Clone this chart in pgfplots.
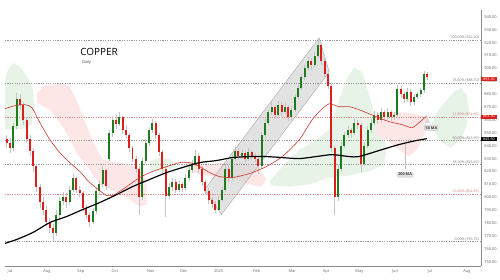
\documentclass[border=0pt]{standalone}
\usepackage{fontspec}
\setmainfont{Open Sans}
\usepackage{pgfplots}
\pgfplotsset{compat=1.18}
\usepackage{pgfplotstable}

\definecolor{upc}{HTML}{1E7B1E}
\definecolor{dnc}{HTML}{D9201C}
\definecolor{wick}{HTML}{C4C4C4}
\definecolor{ma50}{HTML}{C8372D}
\definecolor{cloudg}{HTML}{E8F3E8}
\definecolor{cloudr}{HTML}{FCE6E6}
\definecolor{fibg}{HTML}{9A9A9A}
\definecolor{fibr}{HTML}{E08A8A}
\definecolor{axisg}{HTML}{8C8C8C}
\definecolor{chan}{HTML}{D6D6D6}

\pgfplotstableread{
t o h l c
-2 845 848 838 842
0 842 846 834 838
2 838 858 836 855
4 855 881 853 876
6 876 880 868 872
8 872 874 856 860
10 860 862 842 845
12 845 848 832 836
14 836 838 820 824
16 824 826 804 808
18 808 810 792 796
20 796 800 786 790
22 790 793 778 781
24 781 784 772 776
26 776 779 766 772
28 772 790 770 786
30 786 800 784 797
32 797 804 794 800
34 800 803 792 796
36 796 809 794 806
38 806 818 804 815
40 815 816 803 806
42 806 809 800 803
44 803 805 789 792
46 792 794 783 786
48 786 788 777 781
50 781 792 779 789
52 789 807 787 805
54 805 813 802 810
56 810 824 808 821
58 821 822 806 809
60 830 852 828 850
62 850 863 847 860
64 860 864 853 857
66 857 866 855 862
68 862 863 849 852
70 852 856 845 848
72 848 850 835 838
74 838 840 827 830
76 830 832 819 822
78 822 824 786 800
80 800 831 798 828
82 828 845 826 842
84 842 854 840 852
86 852 861 850 858
88 858 859 845 848
90 848 850 832 835
92 835 837 819 822
94 822 824 785 801
96 801 811 799 808
98 808 815 805 812
100 812 814 803 806
102 806 813 804 810
104 810 812 804 807
106 807 818 805 815
108 815 824 813 821
110 821 829 819 826
112 826 837 824 832
114 832 834 819 822
116 822 824 809 812
118 812 814 802 805
120 805 807 795 798
122 798 800 792 795
124 795 797 788 790
126 790 801 789 798
128 798 808 796 806
130 806 825 804 822
132 822 824 812 815
134 815 833 813 830
136 830 839 828 836
138 836 838 829 832
140 832 837 830 834
142 834 836 827 830
144 830 838 828 835
146 835 837 829 832
148 832 834 827 830
150 830 832 818 824
152 824 851 822 848
154 848 861 846 858
156 858 868 856 866
158 866 874 864 870
160 870 872 861 864
162 864 875 862 872
164 872 874 863 866
166 866 873 864 870
168 870 872 859 862
170 862 871 860 868
172 868 880 866 878
174 878 888 876 885
176 885 896 883 893
178 893 903 891 900
180 900 909 898 906
182 906 908 899 903
184 903 913 901 910
186 910 924 908 918
188 918 920 903 906
190 906 908 893 896
192 896 898 884 886
194 886 888 835 838
196 838 840 786 800
198 800 825 797 822
200 822 843 820 840
202 840 851 838 848
204 848 855 846 852
206 852 854 846 850
208 850 861 848 858
210 858 860 853 856
212 856 858 820 826
214 826 843 824 840
216 840 855 838 852
218 852 861 850 858
220 858 867 856 864
222 864 866 857 860
224 860 869 858 866
226 866 868 859 862
228 862 869 860 866
230 866 868 859 862
232 862 866 860 864
234 864 887 862 884
236 884 886 877 880
238 880 882 873 876
240 876 885 874 882
242 882 884 871 874
244 874 880 872 878
246 878 882 876 880
248 880 885 878 883
250 883 898 881 896
252 896 897 891 893
}\candles

\pgfplotstableread{
t v
-3 868.8
3 871.1
9 871.9
13.3 869.5
18.1 857.9
24.1 844.7
30.1 834.7
36.1 826.9
42.2 820.0
48.2 811.4
54.2 805.2
58.4 801.4
63.3 802.1
70.5 808.3
78.3 815.3
86.1 820.0
94.6 823.8
102.4 826.9
108.4 826.9
114.5 823.8
120.5 819.2
126.5 816.1
134.3 815.3
144.6 818.4
154.8 823.8
164.5 831.6
174.7 844.7
182.5 860.2
188.0 868.0
192.8 872.6
198.8 870.3
204.8 870.3
210.8 868.0
221.1 862.6
228.9 858.7
236.7 856.4
242.8 854.0
247.0 857.9
251.8 863.3
}\maFifty

\pgfplotstableread{
t v
-3 764.2
4.2 767.3
13.9 772.7
24.1 780.4
34.3 785.1
44.0 790.5
54.2 795.9
64.5 802.1
74.1 808.3
84.3 813.8
94.6 819.2
104.2 823.1
114.5 826.9
124.7 828.5
134.3 830.8
144.6 831.6
154.8 831.6
164.5 830.8
174.7 830.0
184.9 831.6
194.6 833.1
204.8 831.6
210.8 831.6
224.7 837.0
234.9 840.9
245.2 844.0
251.8 845.5
}\maTwoHundred

\begin{document}
\begin{tikzpicture}
\path (-5bp,-13bp) rectangle (495bp,267bp);
\begin{axis}[
  scale only axis, width=477bp, height=257bp,
  xmin=-3, xmax=284.3, ymin=746.4, ymax=945.4,
  axis x line*=bottom, axis y line*=right,
  axis line style={axisg, line width=0.4pt},
  xtick={0,22.3,42.8,63.3,85,105,126,149,170.5,191,211,232.5,253.6,276},
  xticklabels={Jul,Aug,Sep,Oct,Nov,Dec,2025,Feb,Mar,Apr,May,Jun,Jul,Aug},
  ytick={750,760,...,940},
  major tick length=0pt,
  tick label style={font=\fontsize{4}{5}\selectfont, text=black!60},
  yticklabel style={/pgf/number format/.cd, fixed, fixed zerofill, precision=2, 1000 sep={}},
  /pgf/number format/assume math mode=true,
  clip mode=individual,
]
% clouds
\addplot[fill=cloudg, draw=none, forget plot] coordinates {(-3,891.2) (-1.2,899.0) (1.8,904.4) (6.0,901.3) (10.2,894.3) (13.9,883.5) (14.5,869.5) (13.3,856.4) (6.0,852.5) (-3,852.5)} --cycle;
\addplot[fill=cloudr, draw=none, forget plot] coordinates {(16.3,881.1) (21.1,886.6) (30.1,888.1) (36.1,885.8) (39.2,878.0) (45.2,858.7) (51.2,840.9) (56.0,829.2) (63.3,826.9) (72.3,825.4) (78.3,821.5) (82.5,813.8) (82.5,794.4) (78.3,792.8) (72.3,798.3) (63.3,804.5) (54.2,809.9) (48.2,821.5) (41.0,833.1) (33.1,852.5) (24.1,868.0) (16.3,873.4)} --cycle;
\addplot[fill=cloudg, draw=none, forget plot] coordinates {(84.3,827.7) (90.4,830.8) (97.6,829.2) (101.2,823.8) (93.4,820.0) (84.3,820.0)} --cycle;
\addplot[fill=cloudr, draw=none, forget plot] coordinates {(106.6,826.9) (120.5,825.4) (132.5,827.7) (142.8,826.9) (150.6,821.5) (154.8,813.8) (151.8,808.3) (144.6,809.9) (135.5,813.8) (126.5,815.3) (114.5,817.6) (106.6,821.5)} --cycle;
\addplot[fill=cloudg, draw=none, forget plot] coordinates {(156.6,812.2) (165.7,825.4) (174.7,837.0) (183.7,843.2) (192.8,852.5) (198.8,875.7) (203.6,892.8) (207.8,900.5) (212.7,897.4) (216.9,879.6) (221.7,856.4) (227.7,838.5) (225.9,825.4) (216.9,820.0) (204.8,816.9) (192.8,815.3) (180.7,809.9) (168.7,808.3) (157.8,809.1)} --cycle;
\addplot[fill=cloudr, draw=none, forget plot] coordinates {(219.9,861.8) (228.9,866.4) (238.0,865.7) (247.0,864.1) (251.8,861.8) (250.0,848.6) (245.8,837.0) (241.0,831.6) (234.9,837.0) (228.9,843.2) (221.7,848.6)} --cycle;
\addplot[fill=cloudg, draw=none, forget plot] coordinates {(254.2,856.4) (259.0,868.0) (263.9,875.7) (268.1,881.9) (272.3,885.0) (275.9,879.6) (277.1,868.0) (275.9,856.4) (272.3,844.7) (266.3,838.5) (259.0,844.7)} --cycle;
% channel
\addplot[fill=chan, fill opacity=0.7, draw=black!35, line width=0.4pt, forget plot] coordinates {(117.5,806.0) (186.7,923.7) (192.8,897.4) (127.7,786.6)} --cycle;
% fib levels
\addplot[fibg, line width=0.4pt, dash pattern=on 1.2pt off 1.2pt, forget plot] coordinates {(-3,922.20) (284.3,922.20)};
\addplot[fibg, line width=0.4pt, dash pattern=on 1.2pt off 1.2pt, forget plot] coordinates {(-3,888.70) (284.3,888.70)};
\addplot[fibr, line width=0.4pt, dash pattern=on 1.2pt off 1.2pt, forget plot] coordinates {(-3,862.45) (284.3,862.45)};
\addplot[fibg, line width=0.4pt, dash pattern=on 1.2pt off 1.2pt, forget plot] coordinates {(-3,843.95) (284.3,843.95)};
\addplot[fibg, line width=0.4pt, dash pattern=on 1.2pt off 1.2pt, forget plot] coordinates {(-3,825.50) (284.3,825.50)};
\addplot[fibr, line width=0.4pt, dash pattern=on 1.2pt off 1.2pt, forget plot] coordinates {(-3,802.65) (284.3,802.65)};
\addplot[fibg, line width=0.4pt, dash pattern=on 1.2pt off 1.2pt, forget plot] coordinates {(-3,765.75) (284.3,765.75)};
% wicks
\addplot[draw=none, mark=none, forget plot, error bars/.cd, y dir=both, y explicit, error mark=none, error bar style={draw=wick, solid, line width=0.5pt}]
  table[x=t, y expr={(\thisrow{h}+\thisrow{l})/2}, y error expr={(\thisrow{h}-\thisrow{l})/2}] {\candles};
% up bodies
\addplot[draw=none, mark=none, forget plot, restrict expr to domain={\thisrow{c}-\thisrow{o}}{0:1000}, error bars/.cd, y dir=both, y explicit, error mark=none, error bar style={draw=upc, solid, line width=2.0pt}]
  table[x=t, y expr={(\thisrow{o}+\thisrow{c})/2}, y error expr={max(abs(\thisrow{c}-\thisrow{o})/2,0.4)}] {\candles};
% down bodies
\addplot[draw=none, mark=none, forget plot, restrict expr to domain={\thisrow{o}-\thisrow{c}}{0.001:1000}, error bars/.cd, y dir=both, y explicit, error mark=none, error bar style={draw=dnc, solid, line width=2.0pt}]
  table[x=t, y expr={(\thisrow{o}+\thisrow{c})/2}, y error expr={max(abs(\thisrow{c}-\thisrow{o})/2,0.4)}] {\candles};
% moving averages
\addplot[ma50, line width=0.6pt, smooth, tension=0.4, forget plot] table[x=t,y=v] {\maFifty};
\addplot[black, line width=1.2pt, smooth, tension=0.4, forget plot] table[x=t,y=v] {\maTwoHundred};
% titles
\node[anchor=west, font=\fontsize{10}{12}\selectfont] at (axis cs:40.4,912.9) {COPPER};
\node[anchor=west, font=\fontsize{4}{5}\selectfont, text=black!70] at (axis cs:41.4,904.4) {Daily};
% fib labels
\begin{scope}[every node/.style={anchor=south east, inner sep=0.6pt, font=\fontsize{3.6}{4}\selectfont}]
\node[text=black!55] at (axis cs:283.6,922.20) {100.00\% (922.20)};
\node[text=black!55] at (axis cs:283.6,888.70) {78.60\% (888.70)};
\node[text=fibr!90!black] at (axis cs:283.6,862.45) {61.80\% (862.45)};
\node[text=black!55] at (axis cs:283.6,843.95) {50.00\% (843.95)};
\node[text=black!55] at (axis cs:283.6,825.50) {38.20\% (825.50)};
\node[text=fibr!90!black] at (axis cs:283.6,802.65) {23.60\% (802.65)};
\node[text=black!55] at (axis cs:283.6,765.75) {0.00\% (765.75)};
\end{scope}
% MA callouts
\fill[black!15] (axis cs:251.8,863.3) -- (axis cs:250.6,857.6) -- (axis cs:253.6,857.6) -- cycle;
\node[fill=black!12, draw=black!20, line width=0.3pt, rounded corners=1pt, inner sep=1.3pt, font=\fontsize{3.8}{4}\selectfont\bfseries, text=black!75] at (axis cs:254.5,854.0) {50 MA};
\draw[black!25, line width=0.8pt] (axis cs:238.6,841.0) -- (axis cs:238.6,822.0);
\node[fill=black!12, draw=black!20, line width=0.3pt, rounded corners=1pt, inner sep=1.3pt, font=\fontsize{3.8}{4}\selectfont\bfseries, text=black!75] at (axis cs:238.6,817.6) {200 MA};
% price boxes
\begin{scope}[every node/.style={anchor=west, inner sep=0.7pt, minimum width=16bp, font=\fontsize{3.8}{4}\selectfont, text=white}]
\node[fill=dnc] at (axis cs:284.3,892.0) {893.30};
\node[fill=dnc] at (axis cs:284.3,862.6) {863.30};
\node[fill=black] at (axis cs:284.3,845.3) {845.50};
\end{scope}
\end{axis}
\end{tikzpicture}
\end{document}
